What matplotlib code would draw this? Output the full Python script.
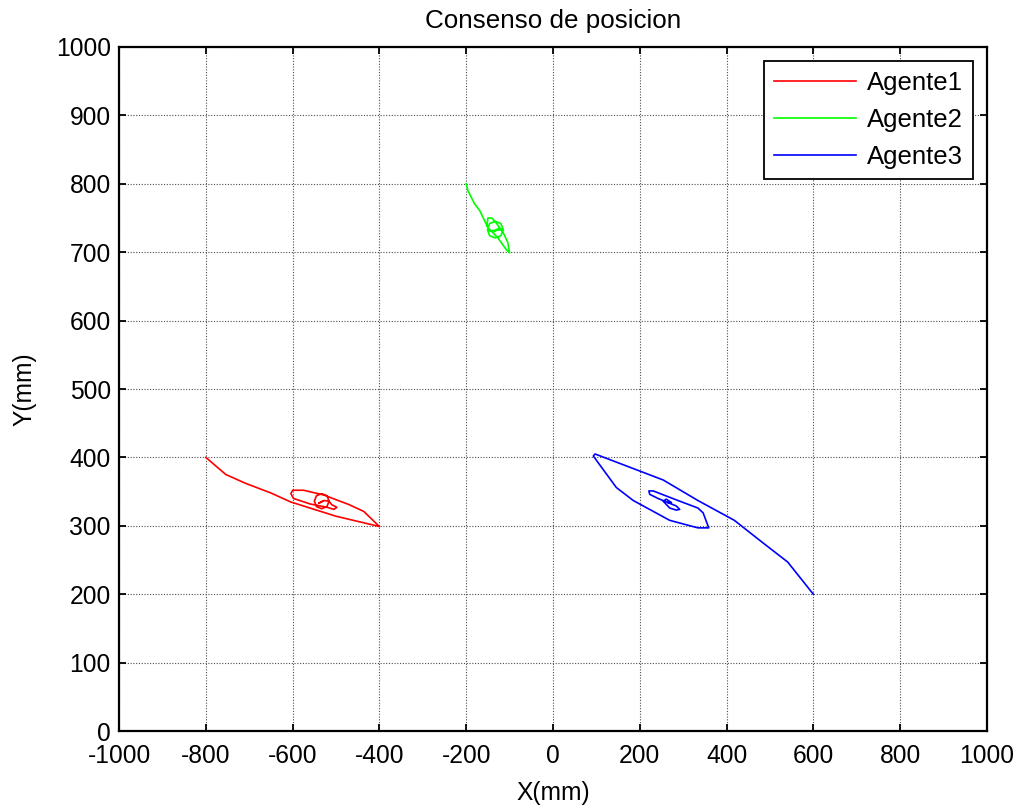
import numpy as np
import matplotlib
matplotlib.use('Agg')
import matplotlib.pyplot as plt

plt.rcParams['font.family'] = ['Liberation Sans', 'DejaVu Sans']
plt.rcParams['axes.unicode_minus'] = False

# trayectorias (mm)
x1 = [-800, -754, -708, -650, -605, -500, -400, -436, -470, -528, -575, -600, -604, -598,
      -560, -520, -505, -498, -510, -516, -521, -533, -545, -550, -545, -533, -521, -516,
      -528, -540, -530]
y1 = [400, 375, 362, 348, 335, 314, 299, 321, 331, 345, 352, 352, 347, 340,
      332, 327, 324, 327, 331, 336, 344, 347, 344, 336, 328, 325, 328, 336,
      337, 333, 336]

x2 = [-200, -196, -181, -169, -150, -127, -108, -100, -104, -115, -130, -141, -150, -152,
      -148, -115, -120, -133, -146, -151, -146, -133, -120, -115, -125, -135, -130]
y2 = [800, 790, 771, 761, 736, 721, 704, 699, 714, 729, 742, 750, 750, 740,
      731, 733, 742, 745, 742, 733, 724, 721, 724, 733, 735, 730, 733]

x3 = [600, 541, 480, 418, 334, 254, 97, 93, 101, 146, 185, 269, 334, 359, 346, 334,
      288, 231, 221, 223, 242, 284, 292, 284, 269, 254, 261, 273, 265]
y3 = [200, 247, 277, 308, 337, 367, 405, 402, 395, 356, 337, 308, 297, 297, 319, 326,
      337, 351, 351, 346, 340, 329, 324, 323, 326, 336, 339, 334, 334]

etiquetas = ['Agente1', 'Agente2', 'Agente3']
colores = ['#ff0000', '#00ff00', '#0000ff']

fig = plt.figure(figsize=(10.21, 8.10), dpi=100)
ax = fig.add_axes([0.1166, 0.0975, 0.85, 0.8445])

ax.plot(x1, y1, color=colores[0], lw=1.2, label=etiquetas[0])
ax.plot(x2, y2, color=colores[1], lw=1.2, label=etiquetas[1])
ax.plot(x3, y3, color=colores[2], lw=1.2, label=etiquetas[2])

ax.set_xlim(-1000, 1000)
ax.set_ylim(0, 1000)
ax.set_xticks(np.arange(-1000, 1001, 200))
ax.set_yticks(np.arange(0, 1001, 100))

ax.grid(True, color='0.3', linestyle=(0, (1, 1.5)), linewidth=0.8)
ax.tick_params(direction='in', top=True, right=True, length=5, width=1.3,
               labelsize=17.7)
ax.tick_params(axis='x', pad=9)
ax.tick_params(axis='y', pad=6)
for s in ax.spines.values():
    s.set_linewidth(1.6)

ax.set_title('Consenso de posicion', fontsize=18.7, pad=14)
ax.set_xlabel('X(mm)', fontsize=17.7, labelpad=10)
ax.set_ylabel('Y(mm)', fontsize=17.7, labelpad=14)

leg = ax.legend(loc='upper right', fontsize=18.5, fancybox=False, framealpha=1,
                edgecolor='black', handlelength=3.2, handletextpad=0.4,
                labelspacing=0.5, borderaxespad=0.55)
leg.get_frame().set_linewidth(1.3)

plt.savefig('out.png', dpi=100)
